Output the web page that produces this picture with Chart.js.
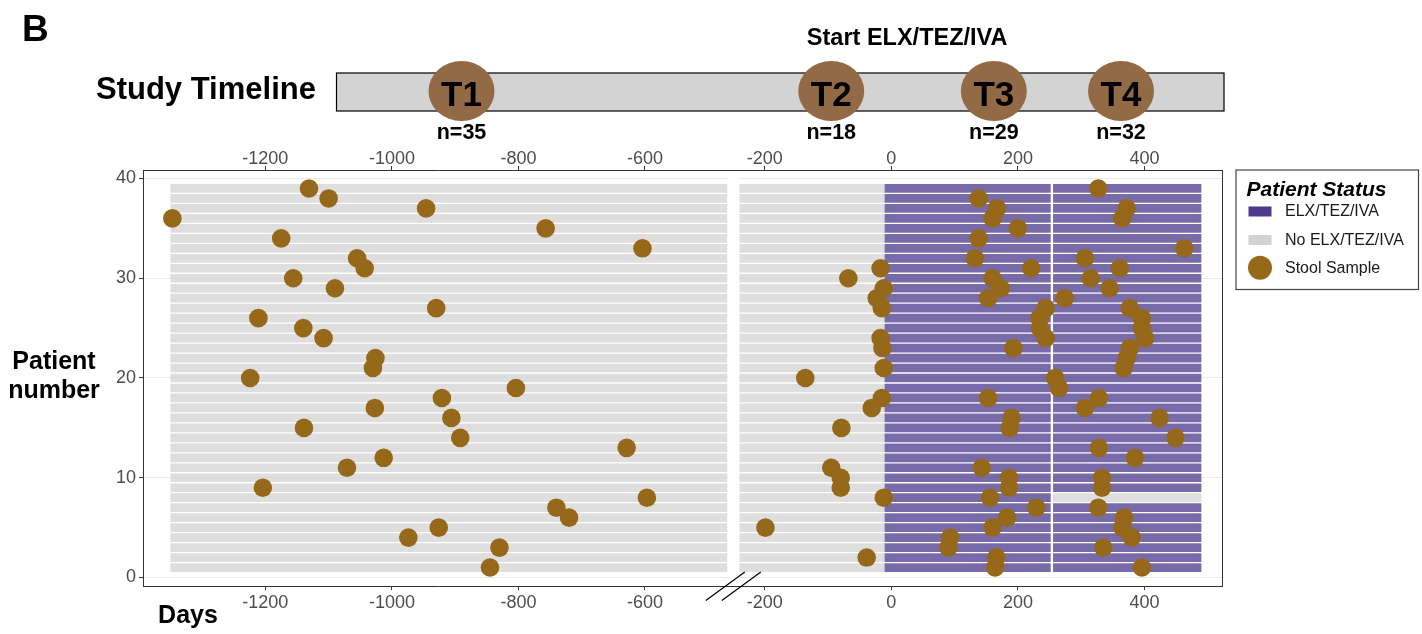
<!DOCTYPE html>
<html>
<head>
<meta charset="utf-8">
<script src="https://cdn.jsdelivr.net/npm/chart.js@4.4.1/dist/chart.umd.min.js"></script>
<style>
  html, body { margin: 0; padding: 0; background: #fff; overflow: hidden; }
  canvas { display: block; }
</style>
</head>
<body>
<canvas id="timeline" width="1422" height="634"></canvas>
<script>
// ---- data -------------------------------------------------------------
const patients = [1,2,3,4,5,6,7,8,9,10,11,12,13,14,15,16,17,18,19,20,
                  21,22,23,24,25,26,27,28,29,30,31,32,33,34,35,36,37,38,39];

// follow-up windows (days relative to ELX/TEZ/IVA start)
const earlyWindow = [-1350, -470];
const lateWindow = [-240, 490];
const elxStartDay = -11;
const t3PeriodEnd = 251.9;
const t4PeriodStart = 255.6;
const offTherapyAfterT3 = [8];

// stool samples: patient number and day of collection, per timepoint
const t1Patients = [39,38,37,36,35,34,33,32,31,30,29,27,26,25,24,22,21,20,19,18,17,16,15,14,13,12,11,9,8,7,6,5,4,3,1];
const t1Days = [-1131,-1100,-946,-1347,-757,-1175,-604,-1055,-1043,-1156,-1090,-930,-1211,-1140,-1108,-1026,-1030,-1224,-804,-921,-1027,-906,-1139,-892,-629,-1013,-1071,-1204,-597,-740,-720,-926,-974,-830,-845];

const t2Patients = [31,30,29,28,27,24,23,21,20,18,17,15,11,10,9,8,5,2];
const t2Days = [-17,-68,-12,-23,-15,-17,-14,-12,-136,-15,-31,-79,-95,-80,-80,-12,-199,-39];

const t3Patients = [38,37,36,35,34,32,31,30,29,28,27,26,25,24,23,18,16,15,11,10,9,8,7,6,5,4,3,2,1];
const t3Days = [138,167,160,200,138,132,221,160,173,153,244,234,235,244,193,153,190,187,143,186,186,156,229,183,160,93,90,166,164];

const t4Patients = [39,37,36,33,32,31,30,29,28,27,26,25,24,23,22,21,20,19,18,17,16,14,13,12,10,9,7,6,5,4,3,1];
const t4Days = [327,372,365,463,306,361,315,345,274,377,396,396,401,377,372,367,259,265,328,306,424,449,328,385,333,333,327,368,365,380,335,396];

// study timepoints shown on the timeline bar
const timepointLabels = ['T1', 'T2', 'T3', 'T4'];
const timepointDays = [-890, -95, 162, 363];
const timepointCounts = [35, 18, 29, 32];

// axis ranges and ticks
const earlyAxisRange = [-1393.4, -460.4];
const lateAxisRange = [-249.8, 522.6];
const earlyTicks = [-1200, -1000, -800, -600];
const lateTicks = [-200, 0, 200, 400];
const patientTicks = [0, 10, 20, 30, 40];
const patientRange = [-0.85, 40.85];

// ---- styling ----------------------------------------------------------
const FONT = "'Liberation Sans', Arial, Helvetica, sans-serif";
const ELX_KEY = '#4B3A8C';
const ELX_FILL = 'rgba(75,58,140,0.75)';
const NO_ELX_KEY = '#D3D3D3';
const NO_ELX_FILL = 'rgba(211,211,211,0.75)';
const SAMPLE = '#966819';
const TIMEPOINT = '#936A46';
const AXIS = '#333333';
const TICK_TEXT = '#4D4D4D';

function tileRows(range, fill, axisId) {
  return {
    type: 'bar',
    indexAxis: 'y',
    data: patients.map(p => ({ y: p, x: range })),
    xAxisID: axisId,
    yAxisID: 'y',
    backgroundColor: fill,
    borderWidth: 0,
    grouped: false,
    barPercentage: 0.87,
    categoryPercentage: 1,
    order: 2
  };
}

function sampleSet(label, pts, days, axisId) {
  return {
    type: 'scatter',
    label,
    data: pts.map((p, i) => ({ x: days[i], y: p })),
    xAxisID: axisId,
    yAxisID: 'y',
    backgroundColor: SAMPLE,
    borderWidth: 0,
    pointRadius: 9.3,
    pointHoverRadius: 9.3,
    order: 1
  };
}

function dayAxis(position, stack, range, ticks, labelPad) {
  return {
    type: 'linear',
    position,
    stack,
    stackWeight: range[1] - range[0],
    min: range[0],
    max: range[1],
    offset: false,
    beginAtZero: false,
    grid: { display: true, offset: false, drawOnChartArea: false, drawTicks: true, tickLength: 4, tickColor: AXIS, tickWidth: 1 },
    border: { display: true, color: AXIS, width: 1 },
    ticks: { color: TICK_TEXT, font: { family: FONT, size: 18 }, padding: labelPad, maxRotation: 0, autoSkip: false,
             callback: v => String(v) },
    afterBuildTicks: s => { s.ticks = ticks.map(v => ({ value: v })); },
    afterFit: s => { s.height = 26; }
  };
}

const finalPeriodRows = tileRows([t4PeriodStart, lateWindow[1]], ELX_FILL, 'xR');
finalPeriodRows.backgroundColor = c => (c.raw && offTherapyAfterT3.includes(c.raw.y)) ? NO_ELX_FILL : ELX_FILL;

// ---- decorations: timeline, titles, legend, axis break ----------------
const decor = {
  id: 'decor',
  beforeDatasetsDraw(chart) {
    const { ctx, chartArea } = chart;
    const gapX = chart.scales.xR.left;
    ctx.save();
    ctx.fillStyle = '#ffffff';
    ctx.fillRect(gapX - 5, chartArea.top + 1, 10, chartArea.height - 2);
    ctx.restore();
  },
  afterDraw(chart) {
    const { ctx, chartArea } = chart;
    const xL = chart.scales.xL, xR = chart.scales.xR;
    ctx.save();

    // right edge of the panel
    ctx.strokeStyle = AXIS;
    ctx.lineWidth = 1;
    ctx.beginPath();
    ctx.moveTo(Math.round(chartArea.right) + 0.5, chartArea.top);
    ctx.lineTo(Math.round(chartArea.right) + 0.5, chartArea.bottom);
    ctx.stroke();

    // axis break marks
    const bx = xR.left, by = chartArea.bottom;
    ctx.strokeStyle = '#000';
    ctx.lineWidth = 1.2;
    [-8, 8].forEach(o => {
      ctx.beginPath();
      ctx.moveTo(bx + o - 19.5, by + 14.5);
      ctx.lineTo(bx + o + 19.5, by - 14);
      ctx.stroke();
    });

    // panel letter
    ctx.fillStyle = '#000';
    ctx.textAlign = 'left';
    ctx.textBaseline = 'alphabetic';
    ctx.font = `bold 37px ${FONT}`;
    ctx.fillText('B', 22, 41);

    // study timeline bar
    ctx.font = `bold 31px ${FONT}`;
    ctx.fillText('Study Timeline', 96, 99);
    ctx.fillStyle = '#D3D3D3';
    ctx.fillRect(336.5, 73, 887.5, 38);
    ctx.strokeStyle = '#000';
    ctx.lineWidth = 1.2;
    ctx.strokeRect(336.5, 73, 887.5, 38);

    ctx.textAlign = 'center';
    ctx.font = `bold 23.5px ${FONT}`;
    ctx.fillStyle = '#000';
    ctx.fillText('Start ELX/TEZ/IVA', xR.getPixelForValue(25), 45);

    timepointLabels.forEach((lab, i) => {
      const d = timepointDays[i];
      const px = d <= earlyAxisRange[1] ? xL.getPixelForValue(d) : xR.getPixelForValue(d);
      ctx.fillStyle = TIMEPOINT;
      ctx.beginPath();
      ctx.ellipse(px, 91, 33, 30, 0, 0, Math.PI * 2);
      ctx.fill();
      ctx.fillStyle = '#000';
      ctx.font = `bold 35px ${FONT}`;
      ctx.fillText(lab, px, 106);
      ctx.font = `bold 21.5px ${FONT}`;
      ctx.fillText('n=' + timepointCounts[i], px, 138.5);
    });

    // axis titles
    ctx.font = `bold 25px ${FONT}`;
    ctx.fillText('Patient', 54, 369);
    ctx.fillText('number', 54, 398);
    ctx.fillText('Days', 188, 623);

    // legend
    const lx = 1236, ly = 170, lw = 182.5, lh = 119.5;
    ctx.strokeStyle = '#444';
    ctx.lineWidth = 1.2;
    ctx.strokeRect(lx, ly, lw, lh);
    ctx.textAlign = 'left';
    ctx.fillStyle = '#000';
    ctx.font = `italic bold 21px ${FONT}`;
    ctx.fillText('Patient Status', lx + 10.5, ly + 26);
    ctx.fillStyle = ELX_KEY;
    ctx.fillRect(lx + 12.5, ly + 36.5, 23, 10);
    ctx.fillStyle = NO_ELX_KEY;
    ctx.fillRect(lx + 12.5, ly + 65, 23, 10);
    ctx.fillStyle = SAMPLE;
    ctx.beginPath();
    ctx.arc(lx + 24, ly + 97.7, 12, 0, Math.PI * 2);
    ctx.fill();
    ctx.fillStyle = '#1a1a1a';
    ctx.textBaseline = 'middle';
    ctx.font = `16px ${FONT}`;
    ctx.fillText('ELX/TEZ/IVA', lx + 49, ly + 42);
    ctx.fillText('No ELX/TEZ/IVA', lx + 49, ly + 70.5);
    ctx.fillText('Stool Sample', lx + 49, ly + 98.5);

    ctx.restore();
  }
};

new Chart(document.getElementById('timeline'), {
  type: 'bar',
  data: {
    datasets: [
      tileRows(earlyWindow, NO_ELX_FILL, 'xL'),
      tileRows([lateWindow[0], elxStartDay], NO_ELX_FILL, 'xR'),
      tileRows([elxStartDay, t3PeriodEnd], ELX_FILL, 'xR'),
      finalPeriodRows,
      sampleSet('T1', t1Patients, t1Days, 'xL'),
      sampleSet('T2', t2Patients, t2Days, 'xR'),
      sampleSet('T3', t3Patients, t3Days, 'xR'),
      sampleSet('T4', t4Patients, t4Days, 'xR')
    ]
  },
  options: {
    responsive: false,
    animation: false,
    devicePixelRatio: 1,
    layout: { padding: { left: 103, right: 200, top: 144, bottom: 22 } },
    plugins: { legend: { display: false }, tooltip: { enabled: false } },
    scales: {
      // bottom day axes, laid side by side
      xL: dayAxis('bottom', 'days', earlyAxisRange, earlyTicks, 2),
      xR: dayAxis('bottom', 'days', lateAxisRange, lateTicks, 2),
      // top day axes (top boxes are placed in reverse order)
      xRt: dayAxis('top', 'daysTop', lateAxisRange, lateTicks, -4),
      xLt: dayAxis('top', 'daysTop', earlyAxisRange, earlyTicks, -4),
      y: {
        type: 'linear',
        position: 'left',
        min: patientRange[0],
        max: patientRange[1],
        offset: false,
        beginAtZero: false,
        grid: { color: '#EBEBEB', offset: false, lineWidth: 1.1, drawTicks: true, tickLength: 4, tickColor: AXIS, tickWidth: 1 },
        border: { display: true, color: AXIS, width: 1 },
        ticks: { color: TICK_TEXT, font: { family: FONT, size: 18 }, padding: 3, callback: v => String(v) },
        afterBuildTicks: s => { s.ticks = patientTicks.map(v => ({ value: v })); },
        afterFit: s => { s.width = 40; }
      }
    }
  },
  plugins: [decor]
});
</script>
</body>
</html>
